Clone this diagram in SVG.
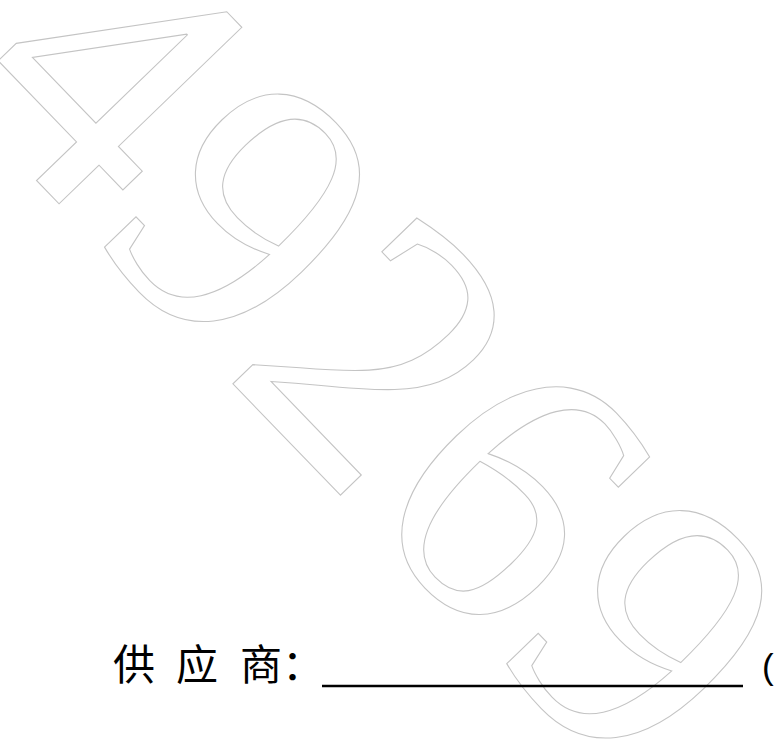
<svg xmlns="http://www.w3.org/2000/svg" width="774" height="741" viewBox="0 0 774 741">
<style>
.wm{font-family:"Liberation Serif","DejaVu Serif",serif;font-size:386px;fill:none;stroke:#c4c4c4;stroke-width:1.1}
.lbl{font-family:"Noto Sans CJK SC","Noto Sans CJK JP",sans-serif;font-size:42px;fill:#000}
</style>
<rect width="774" height="741" fill="#fff"/>
<g id="watermark">
<text class="wm" transform="translate(-47,94) rotate(46)">49269</text>
</g>
<g id="supplier-label">
<text class="lbl" x="113" y="680">供</text>
<text class="lbl" x="176" y="680">应</text>
<text class="lbl" x="240" y="680">商：</text>
<line x1="322" y1="686" x2="743" y2="686" stroke="#000" stroke-width="2.5"/>
<text x="762" y="679" font-family="Liberation Sans,sans-serif" font-size="35" fill="#000">(</text>
</g>
</svg>
